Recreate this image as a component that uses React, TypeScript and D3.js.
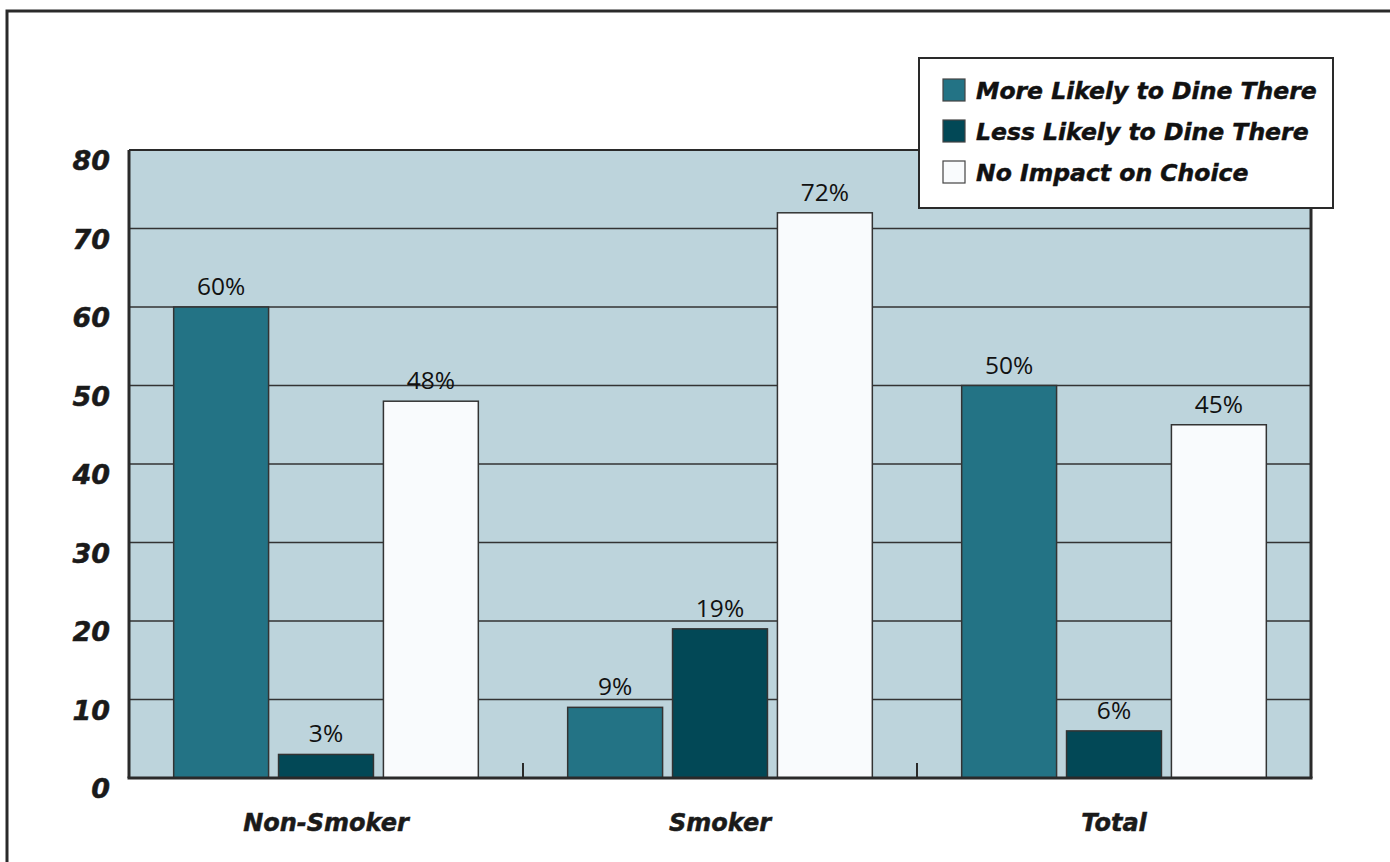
import React from "react";
import * as d3 from "d3";

const groups = ["Non-Smoker", "Smoker", "Total"];
const seriesNames = [
  "More Likely to Dine There",
  "Less Likely to Dine There",
  "No Impact on Choice",
];
const moreLikely = [60, 9, 50];
const lessLikely = [3, 19, 6];
const noImpact = [48, 72, 45];
const seriesColors = ["#237385", "#024856", "#f9fbfd"];
const yTicks = [0, 10, 20, 30, 40, 50, 60, 70, 80];

const W = 1390;
const H = 862;
const plot = { left: 129, right: 1311, top: 150, bottom: 778 };

const boldFont = "'DejaVu Sans', sans-serif";
const valueFont = "'Open Sans', sans-serif";

const heavy = {
  fontFamily: boldFont,
  fontWeight: "bold" as const,
  fontStyle: "italic" as const,
  fill: "#1a1a1a",
  stroke: "#1a1a1a",
  strokeWidth: 0.5,
};

export default function App() {
  const series = [moreLikely, lessLikely, noImpact];
  const x0 = d3.scaleBand<string>().domain(groups).range([plot.left, plot.right]);
  const x1 = d3
    .scaleBand<number>()
    .domain([0, 1, 2])
    .range([0, x0.bandwidth()])
    .paddingInner(0.095)
    .paddingOuter(0.426);
  const y = d3.scaleLinear().domain([0, 80]).range([plot.bottom, plot.top]);

  return (
    <svg
      width={W}
      height={H}
      style={{ position: "absolute", left: 0, top: 0, background: "#fff" }}
    >
      {/* outer frame */}
      <rect x={7} y={11} width={W + 20} height={H + 20} fill="#fff" stroke="#2a2a2a" strokeWidth={3} />

      {/* plot background */}
      <rect
        x={plot.left}
        y={plot.top}
        width={plot.right - plot.left}
        height={plot.bottom - plot.top}
        fill="#bdd4dc"
      />
      {/* gridlines */}
      {yTicks.filter((t) => t > 0 && t < 80).map((t) => (
        <line key={t} x1={plot.left} x2={plot.right} y1={y(t)} y2={y(t)} stroke="#333" strokeWidth={1.5} />
      ))}
      {/* plot frame */}
      <line x1={plot.left} x2={plot.right} y1={plot.top} y2={plot.top} stroke="#2a2a2a" strokeWidth={2} />
      <line x1={plot.left} x2={plot.left} y1={plot.top} y2={plot.bottom} stroke="#2a2a2a" strokeWidth={3} />
      <line x1={plot.right} x2={plot.right} y1={plot.top} y2={plot.bottom} stroke="#2a2a2a" strokeWidth={3} />

      {/* group separators */}
      {groups.slice(1).map((g) => (
        <line key={g} x1={x0(g)!} x2={x0(g)!} y1={plot.bottom - 15} y2={plot.bottom} stroke="#2a2a2a" strokeWidth={2} />
      ))}

      {/* bars */}
      {groups.map((g, gi) => (
        <g key={g} transform={`translate(${x0(g)},0)`}>
          {series.map((s, si) => {
            const bx = x1(si)!;
            const bw = x1.bandwidth();
            const v = s[gi];
            return (
              <g key={si}>
                <rect
                  x={bx}
                  y={y(v)}
                  width={bw}
                  height={plot.bottom - y(v)}
                  fill={seriesColors[si]}
                  stroke="#333"
                  strokeWidth={1.5}
                />
                <text
                  x={bx + bw / 2}
                  y={y(v) - 12}
                  textAnchor="middle"
                  fontFamily={valueFont}
                  fontWeight={400}
                  fontSize={24.5}
                  fill="#111"
                >
                  {v}%
                </text>
              </g>
            );
          })}
        </g>
      ))}

      {/* baseline */}
      <line x1={plot.left - 1.5} x2={plot.right + 1.5} y1={plot.bottom} y2={plot.bottom} stroke="#2a2a2a" strokeWidth={3} />

      {/* y axis labels */}
      {yTicks.map((t) => (
        <text key={t} x={110} y={y(t) + 20} textAnchor="end" fontSize={27} {...heavy}>
          {t}
        </text>
      ))}

      {/* category labels */}
      {groups.map((g) => (
        <text key={g} x={x0(g)! + x0.bandwidth() / 2} y={831} textAnchor="middle" fontSize={24} {...heavy}>
          {g}
        </text>
      ))}

      {/* legend */}
      <g>
        <rect x={919} y={58} width={414} height={150} fill="#fff" stroke="#2a2a2a" strokeWidth={2} />
        {seriesNames.map((name, i) => (
          <g key={name} transform={`translate(943,${79 + i * 41})`}>
            <rect x={0} y={0} width={22} height={22} fill={seriesColors[i]} stroke="#444" strokeWidth={1.2} />
            <text x={33} y={20} fontSize={23.5} {...heavy} fill="#111" stroke="#111">
              {name}
            </text>
          </g>
        ))}
      </g>
    </svg>
  );
}
